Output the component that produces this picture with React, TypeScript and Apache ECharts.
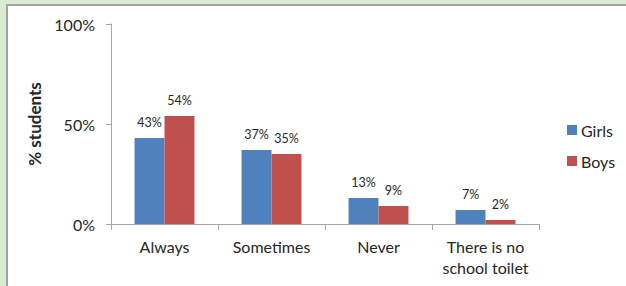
import React, { useEffect, useRef } from "react";
import * as echarts from "echarts";

const categories = ["Always", "Sometimes", "Never", "There is no\nschool toilet"];
const girls = [43, 37, 13, 7];
const boys = [54, 35, 9, 2];
const seriesNames = ["Girls", "Boys"];
const yTicks = [0, 50, 100];

export default function App() {
  const ref = useRef<HTMLDivElement>(null);
  useEffect(() => {
    document.body.style.margin = "0";
    const chart = echarts.init(ref.current!, null, { renderer: "svg" });
    const font = "Lato, 'Open Sans', sans-serif";
    const txt = "#262626";
    chart.setOption({
      animation: false,
      textStyle: { fontFamily: font },
      grid: { left: 111, right: 87, top: 24, bottom: 62 },
      legend: {
        orient: "vertical",
        left: 562,
        top: 117,
        padding: 5,
        itemWidth: 10,
        itemHeight: 10,
        itemGap: 15,
        icon: "rect",
        data: seriesNames,
        textStyle: { fontSize: 16, color: txt, fontFamily: font, padding: [0, 0, 0, -1] },
      },
      xAxis: {
        type: "category",
        data: categories,
        axisLine: { lineStyle: { color: "#a6a6a6", width: 1 } },
        axisTick: { show: true, length: 6, lineStyle: { color: "#a6a6a6" } },
        axisLabel: {
          interval: 0,
          margin: 12,
          fontSize: 16,
          lineHeight: 21,
          color: txt,
          fontFamily: font,
        },
      },
      yAxis: {
        type: "value",
        min: yTicks[0],
        max: yTicks[yTicks.length - 1],
        interval: 50,
        name: "% students",
        nameLocation: "middle",
        nameGap: 68,
        nameTextStyle: { fontSize: 17, fontWeight: "bold", color: txt, fontFamily: font },
        splitLine: { show: false },
        axisLine: { show: true, lineStyle: { color: "#a6a6a6", width: 1 } },
        axisTick: { show: true, length: 5, lineStyle: { color: "#a6a6a6" } },
        axisLabel: {
          margin: 16,
          fontSize: 16,
          color: txt,
          fontFamily: font,
          formatter: (v: number) => v + "%",
        },
      },
      series: [
        {
          name: seriesNames[0],
          type: "bar",
          data: girls,
          barGap: "0%",
          barCategoryGap: "44%",
          itemStyle: { color: "#4f81bd" },
          label: {
            show: true,
            position: "top",
            distance: 9,
            fontSize: 12.5,
            color: txt,
            fontFamily: font,
            formatter: "{c}%",
          },
        },
        {
          name: seriesNames[1],
          type: "bar",
          data: boys,
          barGap: "0%",
          barCategoryGap: "44%",
          itemStyle: { color: "#c0504d" },
          label: {
            show: true,
            position: "top",
            distance: 9,
            fontSize: 12.5,
            color: txt,
            fontFamily: font,
            formatter: "{c}%",
          },
        },
      ],
    });
    return () => chart.dispose();
  }, []);
  return (
    <div style={{ position: "fixed", left: 0, top: 0, width: 626, height: 286, background: "#d9ebd3", overflow: "hidden" }}>
      <div
        style={{
          position: "absolute",
          left: 6,
          top: 4,
          width: 620,
          height: 282,
          background: "#ffffff",
          borderTop: "2px solid #a3a3a3",
          borderLeft: "2px solid #a3a3a3",
          boxSizing: "border-box",
        }}
      />
      <div ref={ref} style={{ position: "absolute", left: 0, top: 0, width: 626, height: 286 }} />
    </div>
  );
}
